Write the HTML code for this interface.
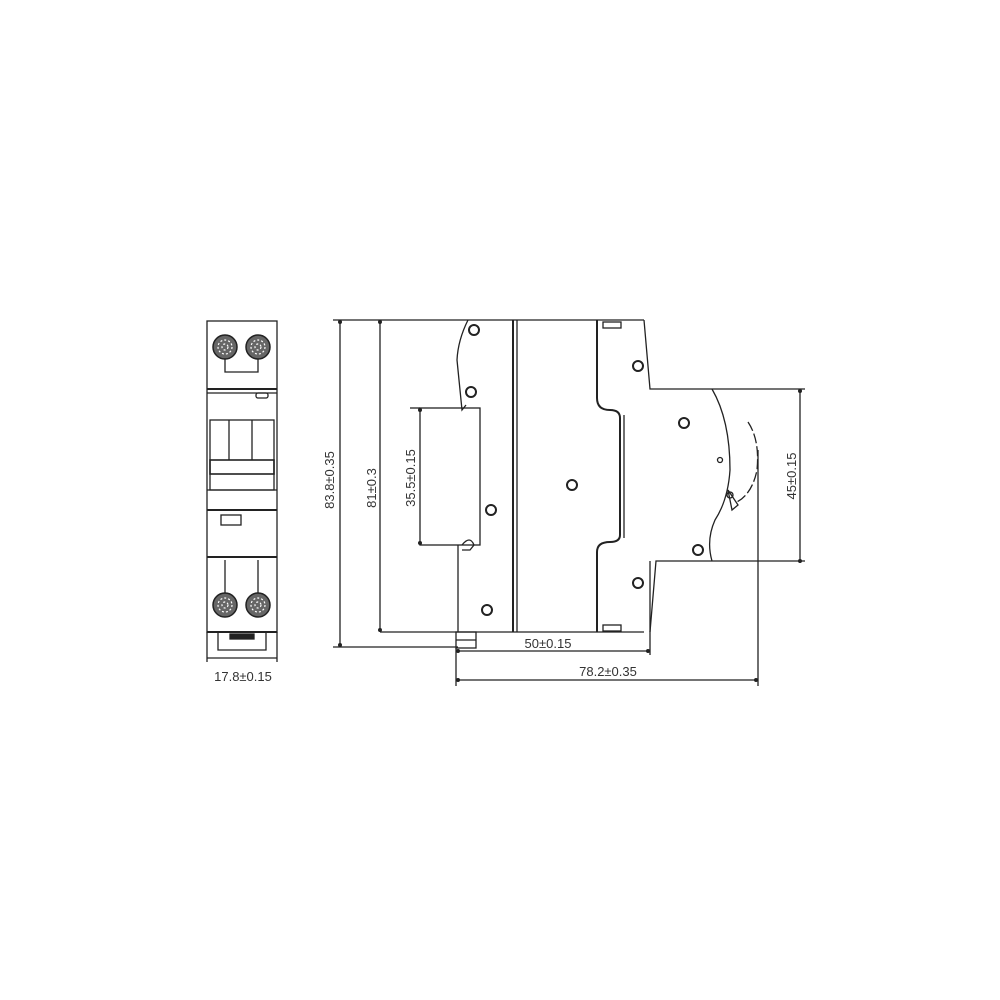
<!DOCTYPE html>
<html><head><style>body{margin:0;background:#fff}svg{display:block}text{font-family:"Liberation Sans",sans-serif;font-size:13px;fill:#333}</style></head><body>
<svg width="1000" height="1000" viewBox="0 0 1000 1000" fill="none" stroke="#222" stroke-width="1.3">
<!-- left view -->
<rect x="207" y="321" width="70" height="311"/>
<line x1="207" y1="389" x2="277" y2="389" stroke-width="2"/>
<line x1="207" y1="393" x2="277" y2="393"/>
<g stroke-width="1.5" fill="#666">
<circle cx="225" cy="347" r="12"/><circle cx="258" cy="347" r="12"/>
<circle cx="225" cy="605" r="12"/><circle cx="258" cy="605" r="12"/>
</g>
<g stroke="#fff" stroke-width="1.2" stroke-dasharray="2 2">
<circle cx="225" cy="347" r="7"/><circle cx="258" cy="347" r="7"/>
<circle cx="225" cy="605" r="7"/><circle cx="258" cy="605" r="7"/>
<circle cx="225" cy="347" r="3"/><circle cx="258" cy="347" r="3"/>
<circle cx="225" cy="605" r="3"/><circle cx="258" cy="605" r="3"/>
</g>
<polyline points="225,359 225,372 258,372 258,359"/>
<rect x="256" y="393" width="12" height="5" rx="2"/>
<rect x="210" y="420" width="64" height="70"/>
<line x1="229" y1="420" x2="229" y2="460"/><line x1="252" y1="420" x2="252" y2="460"/>
<rect x="210" y="460" width="64" height="14" stroke-width="1.6"/>
<line x1="207" y1="490" x2="277" y2="490"/>
<line x1="207" y1="510" x2="277" y2="510" stroke-width="2"/>
<rect x="221" y="515" width="20" height="10"/>
<line x1="207" y1="557" x2="277" y2="557" stroke-width="2"/>
<line x1="225" y1="560" x2="225" y2="593"/><line x1="258" y1="560" x2="258" y2="593"/>
<line x1="207" y1="632" x2="277" y2="632" stroke-width="2"/>
<path d="M218 632 V650 H266 V632"/>
<rect x="230" y="634" width="24" height="5" fill="#222"/>
<line x1="207" y1="632" x2="207" y2="662"/><line x1="277" y1="632" x2="277" y2="662"/>
<line x1="207" y1="658" x2="277" y2="658"/>
<text x="243" y="681" text-anchor="middle" stroke="none">17.8±0.15</text>

<!-- side view -->
<line x1="333" y1="320" x2="644" y2="320"/>
<line x1="333" y1="647" x2="458" y2="647"/>
<line x1="340" y1="320" x2="340" y2="647"/>
<line x1="380" y1="320" x2="380" y2="632"/>
<line x1="380" y1="632" x2="644" y2="632"/>
<line x1="513" y1="320" x2="513" y2="632" stroke-width="2"/>
<line x1="517" y1="320" x2="517" y2="632"/>
<path d="M597 320 V398 Q597 410 610 410 Q620 410 620 418 V535 Q620 542 610 542 Q597 542 597 552 V632" stroke-width="2"/>
<line x1="624" y1="415" x2="624" y2="538"/>
<rect x="603" y="322" width="18" height="6"/><rect x="603" y="625" width="18" height="6"/>
<path d="M644 320 L650 389 H805"/>
<path d="M650 632 L656 561 H805"/>
<path d="M712 389 Q730 420 730 470 Q728 500 715 520 Q706 540 712 561"/>
<path d="M748 422 Q760 440 757 470 Q752 495 735 503" stroke-dasharray="10 3"/>
<path d="M728 490 L738 505 L732 510 Z"/>
<circle cx="730" cy="495" r="3"/>
<circle cx="720" cy="460" r="2.5"/>
<path d="M468 320 Q458 340 457 360 L462 410 L466 405"/>
<rect x="420" y="408" width="60" height="137"/>
<path d="M462 545 Q470 535 474 545 L470 550 L462 550"/>
<path d="M458 545 V632"/>
<rect x="456" y="632" width="20" height="16"/>
<line x1="456" y1="640" x2="476" y2="640"/>
<g stroke-width="2">
<circle cx="474" cy="330" r="5"/><circle cx="471" cy="392" r="5"/><circle cx="491" cy="510" r="5"/><circle cx="487" cy="610" r="5"/>
<circle cx="572" cy="485" r="5"/>
<circle cx="638" cy="366" r="5"/><circle cx="684" cy="423" r="5"/><circle cx="698" cy="550" r="5"/><circle cx="638" cy="583" r="5"/>
</g>
<!-- dims -->
<line x1="410" y1="408" x2="420" y2="408"/>
<line x1="800" y1="389" x2="800" y2="563"/>
<line x1="650" y1="561" x2="650" y2="655"/>
<line x1="456" y1="648" x2="456" y2="686"/>
<line x1="758" y1="450" x2="758" y2="686"/>
<line x1="456" y1="651" x2="650" y2="651"/>
<line x1="456" y1="680" x2="758" y2="680"/>
<g fill="#222" stroke="none">
<circle cx="340" cy="322" r="2"/><circle cx="340" cy="645" r="2"/>
<circle cx="380" cy="322" r="2"/><circle cx="380" cy="630" r="2"/>
<circle cx="420" cy="410" r="2"/><circle cx="420" cy="543" r="2"/>
<circle cx="800" cy="391" r="2"/><circle cx="800" cy="561" r="2"/>
<circle cx="458" cy="651" r="2"/><circle cx="648" cy="651" r="2"/>
<circle cx="458" cy="680" r="2"/><circle cx="756" cy="680" r="2"/>
</g>
<text transform="translate(334,480) rotate(-90)" text-anchor="middle" stroke="none">83.8±0.35</text>
<text transform="translate(376,488) rotate(-90)" text-anchor="middle" stroke="none">81±0.3</text>
<text transform="translate(415,478) rotate(-90)" text-anchor="middle" stroke="none">35.5±0.15</text>
<text transform="translate(796,476) rotate(-90)" text-anchor="middle" stroke="none">45±0.15</text>
<text x="548" y="648" text-anchor="middle" stroke="none">50±0.15</text>
<text x="608" y="676" text-anchor="middle" stroke="none">78.2±0.35</text>
</svg>
</body></html>
